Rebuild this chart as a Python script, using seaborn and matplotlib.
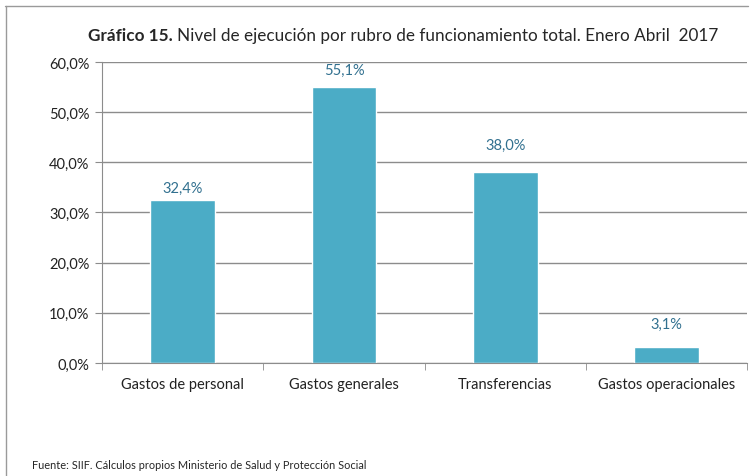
import matplotlib
matplotlib.use('Agg')
import matplotlib.pyplot as plt
import seaborn as sns
import pandas as pd
from matplotlib.lines import Line2D

# Datos del gráfico
categorias = ['Gastos de personal', 'Gastos generales', 'Transferencias', 'Gastos operacionales']
ejecucion = [32.4, 55.1, 38.0, 3.1]
yticks = [0, 10, 20, 30, 40, 50, 60]

df = pd.DataFrame({'rubro': categorias, 'ejecucion': ejecucion})

sns.set_style('white')
plt.rcParams['font.family'] = ['Lato', 'DejaVu Sans']

fig = plt.figure(figsize=(7.53, 4.77), dpi=100)
ax = fig.add_axes([0.1355, 0.2369, 0.857, 0.6312])

sns.barplot(data=df, x='rubro', y='ejecucion', color='#4BACC6', width=0.4,
            saturation=1, ax=ax)

ax.set_ylim(0, 60)
ax.set_yticks(yticks)
ax.set_yticklabels([f'{v:.1f}%'.replace('.', ',') for v in yticks], fontsize=10.5, color='#222222')
ax.set_xticks(range(len(categorias)))
ax.set_xticklabels(categorias, fontsize=10.5, color='#222222')
ax.set_xlabel('')
ax.set_ylabel('')
ax.grid(axis='y', color='#8c8c8c', linewidth=1)
ax.set_axisbelow(True)
for s in ['top', 'right']:
    ax.spines[s].set_visible(False)
ax.spines['left'].set_color('#8c8c8c')
ax.spines['bottom'].set_color('#8c8c8c')
ax.tick_params(axis='y', length=5, color='#8c8c8c', pad=4, direction='out', left=True)
ax.tick_params(axis='x', length=0, pad=10)
# marcas de separación entre categorías en el eje x
ax.set_xticks([-0.5, 0.5, 1.5, 2.5, 3.5], minor=True)
ax.tick_params(axis='x', which='minor', length=5, color='#8c8c8c', bottom=True)

# etiquetas de valor (separación sobre la barra, en puntos)
sep_etiqueta = [6, 10, 20, 17]
for i, (v, d) in enumerate(zip(ejecucion, sep_etiqueta)):
    ax.annotate(f'{v:.1f}%'.replace('.', ','), (i, v), xytext=(0, d * 0.72),
                textcoords='offset points', ha='center', va='bottom',
                fontsize=10.5, color='#31708F')

t1 = fig.text(0.117, 0.925, 'Gráfico 15.', fontsize=12.3, fontweight='bold', ha='left', va='center')
fig.canvas.draw()
bb = t1.get_window_extent()
fig.text((bb.x1 + 4) / fig.bbox.width, 0.925,
         'Nivel de ejecución por rubro de funcionamiento total. Enero Abril  2017',
         fontsize=12.3, ha='left', va='center')

fig.text(0.042, 0.012, 'Fuente: SIIF. Cálculos propios Ministerio de Salud y Protección Social',
         fontsize=7.9, ha='left', va='bottom')

# marco exterior
fig.add_artist(Line2D([0.007, 0.993], [0.985, 0.985], color='#9a9a9a', linewidth=1, transform=fig.transFigure))
fig.add_artist(Line2D([0.008, 0.008], [0.985, 0.0], color='#9a9a9a', linewidth=1, transform=fig.transFigure))

fig.savefig('out.png', dpi=100)
